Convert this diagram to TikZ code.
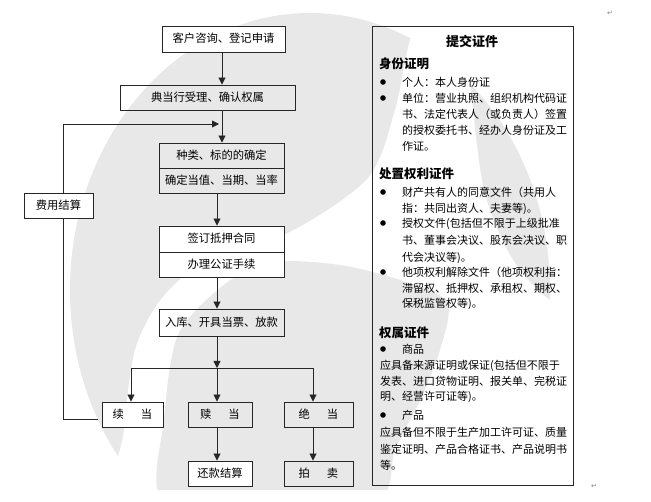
\documentclass[tikz,border=0pt]{standalone}
\usepackage{fontspec}
\newfontfamily\cjk{Noto Sans CJK SC}
\newfontfamily\symf{DejaVu Sans}
\usetikzlibrary{arrows.meta}
\definecolor{wm}{gray}{0.91}
\definecolor{ln}{gray}{0.15}
\tikzset{
  box/.style={draw=ln, line width=0.9pt, inner sep=0pt, text height=0.8em, text depth=0.08em,
    font=\cjk\fontsize{11.3}{14}\selectfont},
  arr/.style={draw=ln, line width=0.9pt, -{Triangle[length=7pt,width=7pt]}},
  plain/.style={draw=ln, line width=0.9pt},
  ptext/.style={inner sep=0pt, anchor=base west, font=\cjk\fontsize{11}{14}\selectfont},
  hd/.style={inner sep=0pt, anchor=base west, font=\cjk\bfseries\fontsize{12.5}{15}\selectfont},
  bul/.style={fill=black},
  pmark/.style={inner sep=0pt, text=gray, font=\symf\fontsize{7}{8}\selectfont}
}
\begin{document}
\begin{tikzpicture}[x=1pt, y=-1pt]
\useasboundingbox (0,0) rectangle (651,502);
% watermark
\begin{scope}
  \clip (0,0) rectangle (651,490);
  \fill[wm] (310,290) ellipse [x radius=240pt, y radius=277pt];
  \fill[white] plot[smooth cycle] coordinates {(120,505) (124,430) (135,350) (162,298) (210,258)
    (290,232) (368,178) (395,110) (410,40) (430,0) (465,20) (472,100) (484,190) (510,255)
    (550,300) (620,330) (640,450) (600,520) (400,530) (250,530)};
  \fill[wm] plot[smooth cycle] coordinates {(163,500) (164,420) (178,335) (225,284) (273,262)
    (340,265) (400,280) (447,302) (440,350) (420,400) (395,450) (378,500) (270,515)};
\end{scope}
% flow boxes
\node[box, fill=white, minimum width=123pt, minimum height=26pt] (b1) at (223.5,39) {客户咨询、登记申请};
\node[box, minimum width=175pt, minimum height=25pt] (b2) at (207.5,97.5) {典当行受理、确认权属};
\node[box, minimum width=125pt, minimum height=25pt] (b3) at (221.5,155.5) {种类、标的的确定};
\node[box, minimum width=125pt, minimum height=25pt] (b3b) at (221.5,180.5) {确定当值、当期、当率};
\node[box, fill=white, minimum width=125pt, minimum height=26pt] (b4) at (221.5,239) {签订抵押合同};
\node[box, fill=white, minimum width=125pt, minimum height=25pt] (b4b) at (221.5,264.5) {办理公证手续};
\node[box, minimum width=125pt, minimum height=27pt] (b5) at (221.5,322.5) {入库、开具当票、放款};
\node[box, fill=white, minimum width=61pt, minimum height=25pt] (b6) at (132.5,414.5) {续\hspace{1.5em}当};
\node[box, minimum width=64pt, minimum height=25pt] (b7) at (220,414.5) {赎\hspace{1.5em}当};
\node[box, minimum width=69pt, minimum height=25pt] (b8) at (318.5,414.5) {绝\hspace{1.5em}当};
\node[box, fill=white, minimum width=64pt, minimum height=25pt] (b9) at (220,473.5) {还款结算};
\node[box, minimum width=69pt, minimum height=25pt] (b10) at (318.5,473.5) {拍\hspace{1.5em}卖};
% helper coordinates
\coordinate (xa) at (222,0);
\coordinate (xb) at (217,0);
\coordinate (jn) at (217,368);
\coordinate (jl) at (131,368);
\coordinate (jr) at (313,368);
\coordinate (ls) at (98,419);
\coordinate (lb) at (63,419);
\coordinate (lt) at (63,124);
\coordinate (ltip) at (219,124);
% connectors
\draw[arr] (b1.south -| xa) -- (b2.north -| xa);
\draw[arr] (b2.south -| xa) -- (b3.north -| xa);
\draw[arr] (b3b.south -| xb) -- (b4.north -| xb);
\draw[arr] (b4b.south -| xb) -- (b5.north -| xb);
\draw[arr] (b5.south -| xb) -- (jn);
\draw[plain] (jl) -- (jr);
\draw[arr] (jl) -- (b6.north -| jl);
\draw[arr] (jn) -- (b7.north -| jn);
\draw[arr] (jr) -- (b8.north -| jr);
\draw[arr] (b7.south -| jn) -- (b9.north -| jn);
\draw[arr] (b8.south -| jr) -- (b10.north -| jr);
\draw[arr] (ls) -- (lb) -- (lt) -- (ltip);
\node[box, fill=white, minimum width=69pt, minimum height=25pt] (b11) at (58.5,205.5) {费用结算};
% right panel
\node[draw=ln, line width=0.9pt, minimum width=201pt, minimum height=459pt, inner sep=0pt] (panel) at (472.5,255.5) {};
\node[inner sep=0pt, anchor=base, font=\cjk\bfseries\fontsize{13}{15}\selectfont] (title) at (472,46.8) {提交证件};
\node[hd] (h1) at (379,68.7) {身份证明};
\fill[bul] (383,82) circle (2.8pt);
\node[ptext] (t1) at (402,86.2) {个人：本人身份证};
\fill[bul] (383,98) circle (2.8pt);
\node[ptext] (t2) at (402,102.2) {单位：营业执照、组织机构代码证};
\node[ptext] (t3) at (402,118.2) {书、法定代表人（或负责人）签置};
\node[ptext] (t4) at (402,134.2) {的授权委托书、经办人身份证及工};
\node[ptext] (t5) at (402,150.2) {作证。};
\node[hd] (h2) at (379,178.7) {处置权利证件};
\fill[bul] (383,192) circle (2.8pt);
\node[ptext] (t6) at (402,196.2) {财产共有人的同意文件（共用人};
\node[ptext] (t7) at (402,212.2) {指：共同出资人、夫妻等)。};
\fill[bul] (383,223) circle (2.8pt);
\node[ptext] (t8) at (402,227.2) {授权文件(包括但不限于上级批准};
\node[ptext] (t9) at (402,244.2) {书、董事会决议、股东会决议、职};
\node[ptext] (t10) at (402,261.2) {代会决议等)。};
\fill[bul] (383,272) circle (2.8pt);
\node[ptext] (t11) at (402,276.2) {他项权利解除文件（他项权利指：};
\node[ptext] (t12) at (402,292.2) {滞留权、抵押权、承租权、期权、};
\node[ptext] (t13) at (402,307.2) {保税监管权等)。};
\node[hd] (h3) at (379,337.7) {权属证件};
\fill[bul] (383,349) circle (2.8pt);
\node[ptext] (t14) at (402,353.2) {商品};
\node[ptext] (t15) at (380,369.2) {应具备来源证明或保证(包括但不限于};
\node[ptext] (t16) at (380,385.2) {发表、进口贷物证明、报关单、完税证};
\node[ptext] (t17) at (380,400.2) {明、经营许可证等)。};
\fill[bul] (383,415) circle (2.8pt);
\node[ptext] (t18) at (402,419.2) {产品};
\node[ptext] (t19) at (380,436.2) {应具备但不限于生产加工许可证、质量};
\node[ptext] (t20) at (380,453.2) {鉴定证明、产品合格证书、产品说明书};
\node[ptext] (t21) at (380,469.2) {等。};
% paragraph marks
\node[pmark] (pm1) at (610,13) {↵};
\node[pmark] (pm2) at (594,486) {↵};
\end{tikzpicture}
\end{document}
